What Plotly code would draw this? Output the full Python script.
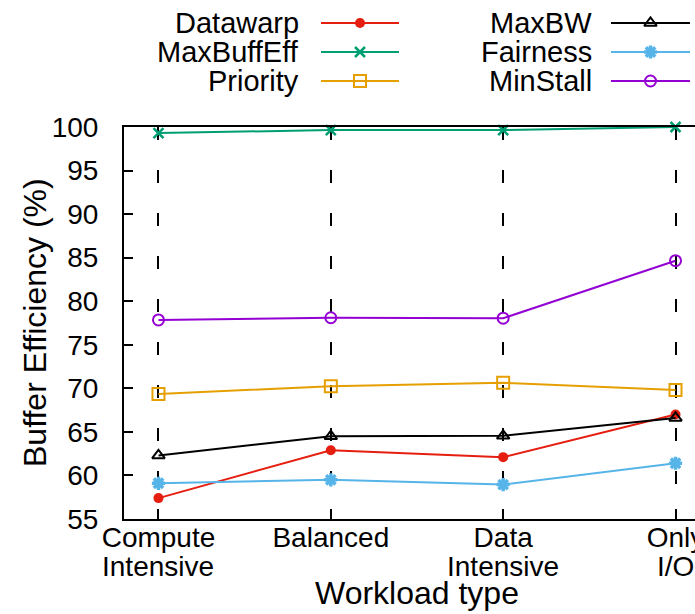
import plotly.graph_objects as go

categories = ["Compute\nIntensive", "Balanced", "Data\nIntensive", "Only\nI/O"]
datawarp = [57.4, 62.9, 62.1, 67.0]
maxbw = [62.3, 64.5, 64.55, 66.6]
maxbuffeff = [99.3, 99.65, 99.65, 100.0]
fairness = [59.1, 59.5, 58.95, 61.4]
priority = [69.35, 70.25, 70.65, 69.8]
minstall = [77.85, 78.1, 78.05, 84.65]

series = [
    ("Datawarp", datawarp, "#e51e10", dict(symbol="circle", size=10, color="#e51e10")),
    ("MaxBW", maxbw, "#000000", dict(symbol="triangle-up-open", size=11, color="#000000", line=dict(width=2, color="#000000"))),
    ("MaxBuffEff", maxbuffeff, "#009e73", dict(symbol="x-thin-open", size=10, color="#009e73", line=dict(width=2.5, color="#009e73"))),
    ("Fairness", fairness, "#56b4e9", dict(symbol="asterisk-open", size=11, color="#56b4e9", line=dict(width=3.5, color="#56b4e9"))),
    ("Priority", priority, "#e69f00", dict(symbol="square-open", size=12, color="#e69f00", line=dict(width=2, color="#e69f00"))),
    ("MinStall", minstall, "#9400d3", dict(symbol="circle-open", size=11, color="#9400d3", line=dict(width=2, color="#9400d3"))),
]

FONT = "Liberation Sans, Arial, sans-serif"
fig = go.Figure()
xs = list(range(len(categories)))
for name, vals, col, mk in series:
    fig.add_trace(go.Scatter(x=xs, y=vals, mode="lines+markers", name=name,
                             line=dict(color=col, width=2), marker=mk,
                             cliponaxis=False, showlegend=False))

# legend (gnuplot style: text right-aligned, sample to the right)
legend_pos = {
    "Datawarp": (301, 321, 399, 23), "MaxBuffEff": (301, 321, 399, 52), "Priority": (301, 321, 399, 81),
    "MaxBW": (594, 611, 690, 23), "Fairness": (594, 611, 690, 52), "MinStall": (594, 611, 690, 81),
}
for name, vals, col, mk in series:
    tx, x0, x1, yy = legend_pos[name]
    fig.add_trace(go.Scatter(x=[x0, (x0 + x1) / 2, x1], y=[yy, yy, yy], mode="lines",
                             line=dict(color=col, width=2), xaxis="x2", yaxis="y2",
                             showlegend=False, hoverinfo="skip", cliponaxis=False))
    fig.add_trace(go.Scatter(x=[(x0 + x1) / 2], y=[yy], mode="markers", marker=mk,
                             xaxis="x2", yaxis="y2", showlegend=False, hoverinfo="skip", cliponaxis=False))
    fig.add_annotation(x=tx, y=yy, xref="x2", yref="y2", text=name, showarrow=False,
                       xanchor="right", yanchor="middle", font=dict(size=29, color="black", family=FONT))

H, W = 614, 695
mt, mb, ml, mr = 0, 95, 124, 0
ph = H - mt - mb
pw = W - ml - mr
top_px, bot_px = 127, 519
y_dom = [(H - mb - bot_px) / ph, (H - mb - top_px) / ph]

first_lines = [c.split("\n")[0] for c in categories]
second_lines = [c.split("\n")[1] if "\n" in c else "" for c in categories]
for xv, t in zip(xs, second_lines):
    if t:
        fig.add_annotation(x=xv, y=0, xref="x", yref="paper", yshift=-47, text=t, showarrow=False,
                           xanchor="center", yanchor="middle", font=dict(size=28, color="black", family=FONT))

# axis titles
fig.add_annotation(x=(417 - ml) / pw, y=0, xref="paper", yref="paper", yshift=-(593 - bot_px),
                   text="Workload type", showarrow=False, xanchor="center", yanchor="middle",
                   font=dict(size=32, color="black", family=FONT))
fig.add_annotation(x=(35 - ml) / pw, y=(y_dom[0] + y_dom[1]) / 2, xref="paper", yref="paper",
                   text="Buffer Efficiency (%)", textangle=-90, showarrow=False,
                   xanchor="center", yanchor="middle", font=dict(size=32, color="black", family=FONT))

fig.update_layout(
    width=W, height=H, template="none",
    margin=dict(l=ml, r=mr, t=mt, b=mb),
    paper_bgcolor="white", plot_bgcolor="white",
    font=dict(family=FONT, size=28, color="black"),
    xaxis=dict(
        tickmode="array", tickvals=xs, ticktext=first_lines, automargin=False,
        range=[-0.2, (W - 158) / 172.5], showline=True, linecolor="black", linewidth=2,
        mirror=True, ticks="inside", ticklen=10, tickwidth=2, tickcolor="black",
        showgrid=True, gridcolor="black", gridwidth=2, griddash="13px,30px",
        zeroline=False, tickfont=dict(size=28), ticklabelstandoff=-8, ticklabeloverflow="allow",
    ),
    yaxis=dict(
        domain=y_dom, range=[55, 100], dtick=5, showline=True, linecolor="black", linewidth=2,
        mirror=False, ticks="inside", ticklen=9, tickwidth=2, tickcolor="black", automargin=False,
        showgrid=False, zeroline=False, tickfont=dict(size=28), ticklabelstandoff=18,
        ticklabeloverflow="allow",
    ),
    xaxis2=dict(overlaying="x", range=[ml, W], visible=False, fixedrange=True, automargin=False),
    yaxis2=dict(domain=[(H - mb - 115) / ph, 1.0], range=[115, 0], visible=False, fixedrange=True,
                anchor="x2", automargin=False),
)
fig.write_html("out.html", config={"displayModeBar": False},
               post_script="document.body.style.margin='0';document.body.style.overflow='hidden';")
